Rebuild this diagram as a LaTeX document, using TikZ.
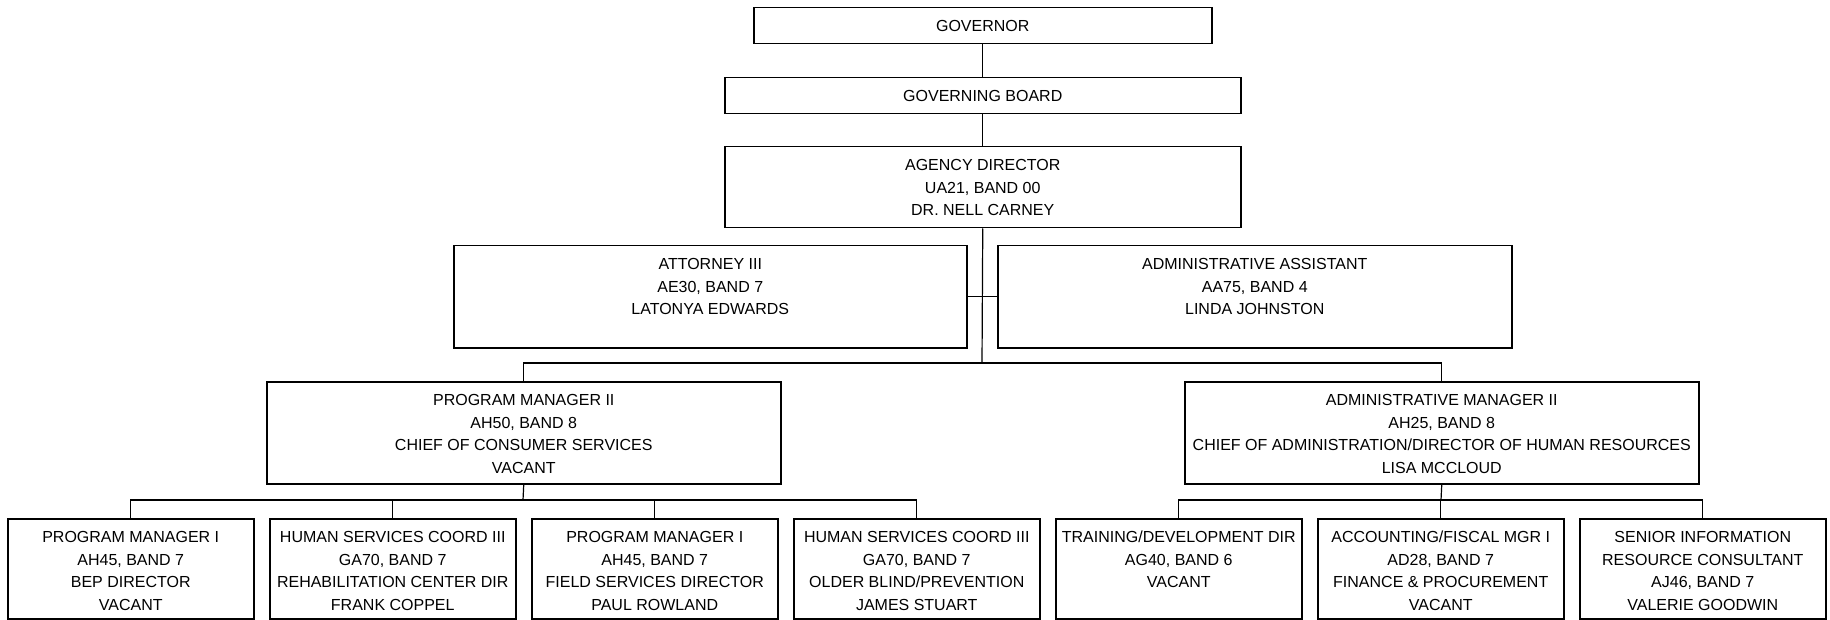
\documentclass[tikz,border=0pt]{standalone}
\usepackage{fontspec}
\setmainfont{Liberation Sans}
\newcommand{\orgtext}[3]{\parbox[c][#2][t]{#1}{\centering\rule{0pt}{23.7pt}#3}}
\begin{document}
\begin{tikzpicture}[x=1pt,y=-1pt,
  orgbox/.style={draw=black, line width=1.5pt, inner sep=0pt, anchor=north west,
    font=\fontsize{16}{22.6}\selectfont},
  conn/.style={draw=black, line width=1.2pt}]
\useasboundingbox (0,0) rectangle (1830,620);
% top chain
\node[orgbox] (gov) at (753,7) {\orgtext{458pt}{36pt}{GOVERNOR}};
\node[orgbox] (board) at (724,77) {\orgtext{516pt}{36pt}{GOVERNING BOARD}};
\node[orgbox] (dir) at (724,146) {\orgtext{516pt}{81pt}{AGENCY DIRECTOR\\UA21, BAND 00\\DR. NELL CARNEY}};
\node[orgbox] (att) at (453,245) {\orgtext{513pt}{102pt}{ATTORNEY III\\AE30, BAND 7\\LATONYA EDWARDS}};
\node[orgbox] (asst) at (997,245) {\orgtext{514pt}{102pt}{ADMINISTRATIVE ASSISTANT\\AA75, BAND 4\\LINDA JOHNSTON}};
\node[orgbox] (pm2) at (266,381) {\orgtext{514pt}{102pt}{PROGRAM MANAGER II\\AH50, BAND 8\\CHIEF OF CONSUMER SERVICES\\VACANT}};
\node[orgbox] (am2) at (1184,381) {\orgtext{514pt}{102pt}{ADMINISTRATIVE MANAGER II\\AH25, BAND 8\\CHIEF OF ADMINISTRATION/DIRECTOR OF HUMAN RESOURCES\\LISA MCCLOUD}};
% bottom row
\node[orgbox] (b1) at (7,518) {\orgtext{246pt}{100pt}{PROGRAM MANAGER I\\AH45, BAND 7\\BEP DIRECTOR\\VACANT}};
\node[orgbox] (b2) at (269,518) {\orgtext{246pt}{100pt}{HUMAN SERVICES COORD III\\GA70, BAND 7\\REHABILITATION CENTER DIR\\FRANK COPPEL}};
\node[orgbox] (b3) at (531,518) {\orgtext{246pt}{100pt}{PROGRAM MANAGER I\\AH45, BAND 7\\FIELD SERVICES DIRECTOR\\PAUL ROWLAND}};
\node[orgbox] (b4) at (793,518) {\orgtext{246pt}{100pt}{HUMAN SERVICES COORD III\\GA70, BAND 7\\OLDER BLIND/PREVENTION\\JAMES STUART}};
\node[orgbox] (b5) at (1055,518) {\orgtext{246pt}{100pt}{TRAINING/DEVELOPMENT DIR\\AG40, BAND 6\\VACANT}};
\node[orgbox] (b6) at (1317,518) {\orgtext{246pt}{100pt}{ACCOUNTING/FISCAL MGR I\\AD28, BAND 7\\FINANCE \& PROCUREMENT\\VACANT}};
\node[orgbox] (b7) at (1579,518) {\orgtext{246pt}{100pt}{SENIOR INFORMATION\\RESOURCE CONSULTANT\\AJ46, BAND 7\\VALERIE GOODWIN}};
% connectors
\coordinate (bus) at (982,363);
\coordinate (lbus) at (523,500);
\coordinate (rbus) at (1441,500);
\draw[conn] (gov.south) -- (board.north);
\draw[conn] (board.south) -- (dir.north);
\draw[conn] (dir.south) -- (bus);
\draw[conn] (att.east) -- (asst.west);
\draw[conn] (pm2.north) |- (bus) -| (am2.north);
\draw[conn] (pm2.south) -- (lbus);
\draw[conn] (b1.north) |- (lbus) -| (b4.north);
\draw[conn] (b2.north) -- (b2.north |- lbus);
\draw[conn] (b3.north) -- (b3.north |- lbus);
\draw[conn] (am2.south) -- (rbus);
\draw[conn] (b5.north) |- (rbus) -| (b7.north);
\draw[conn] (b6.north) -- (b6.north |- rbus);
\end{tikzpicture}
\end{document}
